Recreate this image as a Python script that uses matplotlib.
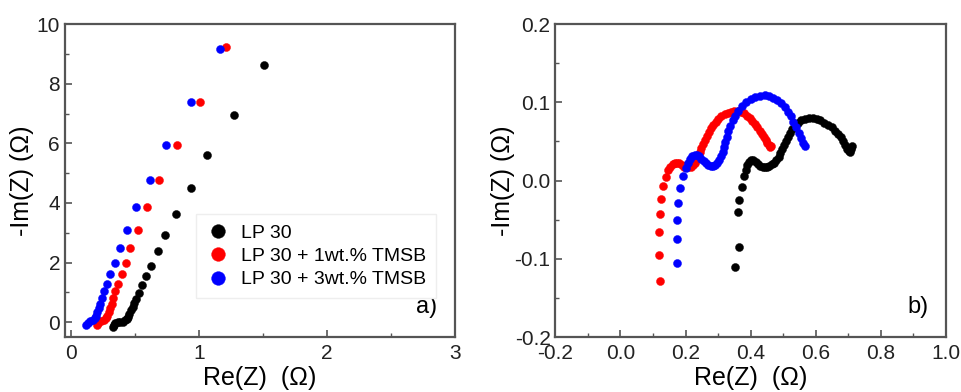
import matplotlib.pyplot as plt
from matplotlib.ticker import MultipleLocator

plt.rcParams['font.family'] = ['Liberation Sans', 'DejaVu Sans']
plt.rcParams['axes.unicode_minus'] = False

labels = ['LP 30', 'LP 30 + 1wt.% TMSB', 'LP 30 + 3wt.% TMSB']
colors = ['black', '#ff0000', '#0000ff']

# panel a) full spectra
a_lp30_x = [0.324, 0.332, 0.345, 0.363, 0.384, 0.405, 0.423, 0.433, 0.444, 0.454, 0.465, 0.478, 0.49,
            0.509, 0.53, 0.556, 0.582, 0.624, 0.679, 0.731, 0.817, 0.937, 1.063, 1.27, 1.507]
a_lp30_y = [-0.16, -0.11, -0.04, 0.01, 0.01, 0.02, 0.06, 0.11, 0.18, 0.28, 0.39, 0.51, 0.64,
            0.79, 0.98, 1.23, 1.54, 1.9, 2.37, 2.94, 3.64, 4.5, 5.62, 6.96, 8.62]
a_1wt_x = [0.201, 0.211, 0.232, 0.253, 0.269, 0.282, 0.292, 0.303, 0.316, 0.329, 0.345, 0.363, 0.392,
           0.426, 0.462, 0.522, 0.593, 0.689, 0.822, 1.005, 1.211]
a_1wt_y = [-0.1, -0.02, 0.03, 0.07, 0.13, 0.22, 0.33, 0.48, 0.62, 0.81, 1.03, 1.29, 1.61,
           2.0, 2.49, 3.09, 3.86, 4.78, 5.96, 7.4, 9.23]
a_3wt_x = [0.117, 0.128, 0.149, 0.17, 0.183, 0.193, 0.204, 0.214, 0.227, 0.243, 0.258, 0.279, 0.305,
           0.339, 0.379, 0.433, 0.509, 0.614, 0.742, 0.932, 1.164]
a_3wt_y = [-0.1, -0.02, 0.03, 0.07, 0.13, 0.22, 0.33, 0.48, 0.62, 0.81, 1.03, 1.29, 1.61,
           2.0, 2.49, 3.09, 3.86, 4.78, 5.96, 7.4, 9.18]

# panel b) high-frequency zoom
b_lp30_x = [0.353, 0.363, 0.362, 0.364, 0.373, 0.380, 0.385, 0.390, 0.396, 0.402,
            0.409, 0.416, 0.423, 0.430, 0.437, 0.444, 0.451, 0.458, 0.465, 0.472,
            0.479, 0.486, 0.492, 0.498, 0.504, 0.510, 0.516, 0.522, 0.529, 0.537,
            0.546, 0.556, 0.567, 0.579, 0.591, 0.603, 0.615, 0.627, 0.638, 0.649,
            0.659, 0.668, 0.677, 0.685, 0.692, 0.698, 0.703, 0.707, 0.710, 0.711]
b_lp30_y = [-0.111, -0.085, -0.040, -0.025, -0.008, 0.006, 0.014, 0.020, 0.024, 0.026,
            0.026, 0.024, 0.021, 0.019, 0.018, 0.018, 0.018, 0.019, 0.021, 0.023,
            0.026, 0.030, 0.035, 0.040, 0.046, 0.051, 0.056, 0.061, 0.066, 0.070,
            0.074, 0.077, 0.079, 0.080, 0.080, 0.079, 0.077, 0.074, 0.071, 0.068,
            0.064, 0.060, 0.056, 0.051, 0.046, 0.041, 0.038, 0.037, 0.040, 0.044]
b_1wt_x = [0.121, 0.117, 0.117, 0.121, 0.125, 0.132, 0.141, 0.147, 0.153, 0.160,
           0.167, 0.174, 0.181, 0.188, 0.195, 0.202, 0.209, 0.216, 0.222, 0.228,
           0.234, 0.239, 0.244, 0.249, 0.254, 0.259, 0.265, 0.271, 0.278, 0.285,
           0.293, 0.301, 0.31, 0.32, 0.33, 0.34, 0.35, 0.36, 0.37, 0.38,
           0.389, 0.398, 0.406, 0.414, 0.421, 0.428, 0.435, 0.441, 0.447, 0.452,
           0.457, 0.461, 0.464]
b_1wt_y = [-0.129, -0.095, -0.066, -0.043, -0.023, -0.007, 0.005, 0.013, 0.018, 0.021,
           0.023, 0.023, 0.022, 0.020, 0.018, 0.017, 0.017, 0.018, 0.020, 0.023,
           0.027, 0.032, 0.037, 0.042, 0.047, 0.052, 0.057, 0.062, 0.067, 0.071,
           0.075, 0.079, 0.082, 0.085, 0.087, 0.088, 0.089, 0.089, 0.088, 0.086,
           0.083, 0.080, 0.076, 0.072, 0.068, 0.064, 0.060, 0.056, 0.052, 0.048,
           0.045, 0.043, 0.044]
b_3wt_x = [0.175, 0.173, 0.173, 0.177, 0.184, 0.192, 0.200, 0.207, 0.214, 0.221,
           0.228, 0.235, 0.242, 0.249, 0.256, 0.263, 0.270, 0.277, 0.284, 0.291,
           0.298, 0.304, 0.309, 0.314, 0.318, 0.322, 0.327, 0.332, 0.338, 0.345,
           0.353, 0.362, 0.373, 0.386, 0.400, 0.414, 0.428, 0.443, 0.457, 0.470,
           0.482, 0.494, 0.505, 0.515, 0.524, 0.532, 0.540, 0.548, 0.555, 0.561,
           0.566]
b_3wt_y = [-0.105, -0.075, -0.050, -0.029, -0.010, 0.006, 0.016, 0.023, 0.028, 0.031,
           0.033, 0.033, 0.031, 0.028, 0.025, 0.022, 0.020, 0.019, 0.019, 0.020,
           0.022, 0.026, 0.031, 0.037, 0.043, 0.049, 0.056, 0.063, 0.070, 0.077,
           0.083, 0.089, 0.095, 0.100, 0.104, 0.107, 0.108, 0.109, 0.108, 0.106,
           0.103, 0.099, 0.094, 0.088, 0.082, 0.075, 0.068, 0.061, 0.054, 0.048,
           0.044]

fig = plt.figure(figsize=(9.61, 3.92), dpi=100)
ax1 = fig.add_axes([0.0676, 0.1403, 0.406, 0.798])
ax2 = fig.add_axes([0.578, 0.1403, 0.406, 0.798])

spine_col = '#555555'


def style(ax):
    for s in ax.spines.values():
        s.set_color(spine_col)
        s.set_linewidth(1.6)
    ax.tick_params(which='both', direction='in', top=False, right=False,
                   color=spine_col, labelsize=15, labelcolor='#222222')
    ax.tick_params(which='major', length=5, width=1.2)
    ax.tick_params(axis='x', which='major', pad=5)
    ax.tick_params(which='minor', length=3, width=1.0)


def dots(ax, x, y, c, label=None):
    ax.plot(x, y, 'o', ms=5.8, color=c, mec=c, mew=0.3, label=label, zorder=3)


dots(ax1, a_lp30_x, a_lp30_y, colors[0], labels[0])
dots(ax1, a_1wt_x, a_1wt_y, colors[1], labels[1])
dots(ax1, a_3wt_x, a_3wt_y, colors[2], labels[2])
ax1.set_xlim(-0.05, 3)
ax1.set_ylim(-0.5, 10)
ax1.xaxis.set_major_locator(MultipleLocator(1))
ax1.xaxis.set_minor_locator(MultipleLocator(0.5))
ax1.yaxis.set_major_locator(MultipleLocator(2))
ax1.yaxis.set_minor_locator(MultipleLocator(1))
style(ax1)
ax1.set_xlabel('Re(Z)  (\u03a9)', fontsize=18, labelpad=2)
ax1.set_ylabel('-Im(Z) (\u03a9)', fontsize=18, labelpad=2)
leg = ax1.legend(loc='lower left', bbox_to_anchor=(0.312, 0.093), fontsize=14,
                 markerscale=1.7, handletextpad=0.6, borderpad=0.5, labelspacing=0.3,
                 fancybox=False, framealpha=1, handlelength=1.2)
leg.get_frame().set_edgecolor('#eeeeee')
ax1.text(0.955, 0.06, 'a)', transform=ax1.transAxes, fontsize=17, ha='right', va='bottom')

dots(ax2, b_lp30_x, b_lp30_y, colors[0])
dots(ax2, b_1wt_x, b_1wt_y, colors[1])
dots(ax2, b_3wt_x, b_3wt_y, colors[2])
ax2.set_xlim(-0.2, 1.0)
ax2.set_ylim(-0.2, 0.2)
ax2.xaxis.set_major_locator(MultipleLocator(0.2))
ax2.xaxis.set_minor_locator(MultipleLocator(0.1))
ax2.yaxis.set_major_locator(MultipleLocator(0.1))
ax2.yaxis.set_minor_locator(MultipleLocator(0.05))
style(ax2)
ax2.set_xlabel('Re(Z)  (\u03a9)', fontsize=18, labelpad=2)
ax2.set_ylabel('-Im(Z) (\u03a9)', fontsize=18, labelpad=0)
ax2.text(0.955, 0.06, 'b)', transform=ax2.transAxes, fontsize=17, ha='right', va='bottom')

fig.savefig('out.png', dpi=100)
